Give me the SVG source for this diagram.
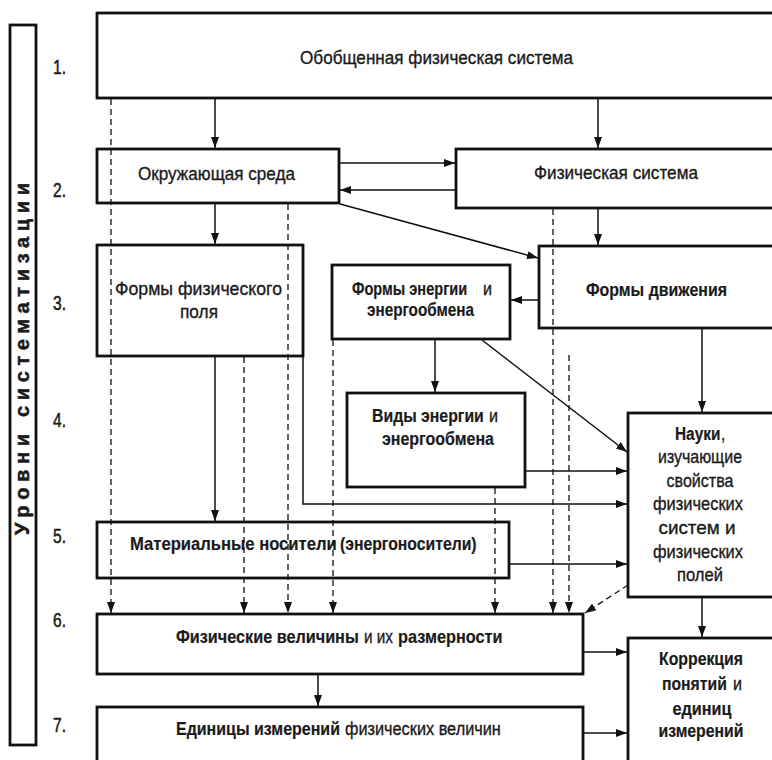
<svg xmlns="http://www.w3.org/2000/svg" width="772" height="760" viewBox="0 0 772 760">
<defs>
<marker id="ah" markerUnits="userSpaceOnUse" markerWidth="11" markerHeight="8" refX="11" refY="4" orient="auto">
<path d="M0,0 L11,4 L0,8 z" fill="#111"/>
</marker>
<style>
.box{fill:#fff;stroke:#111;stroke-width:2.8}
.t{font-family:"Liberation Sans",Arial,sans-serif;font-size:19px;fill:#1a1a1a;stroke:#1a1a1a;stroke-width:0.35}
.m{text-anchor:middle}
.b{font-weight:bold;stroke-width:0.2}
.n{font-family:"Liberation Sans",Arial,sans-serif;font-size:20px;fill:#1a1a1a;stroke:#1a1a1a;stroke-width:0.5}
.c{fill:none;stroke:#111;stroke-width:1.5}
.d{fill:none;stroke:#111;stroke-width:1.3;stroke-dasharray:6 4}
</style>
</defs>
<rect width="772" height="760" fill="#fff"/>

<g id="levels">
<rect x="10" y="25" width="26" height="720" class="box"/>
<text class="n" font-weight="bold" font-size="16" text-anchor="middle" transform="translate(29,359) rotate(-90)" textLength="352" lengthAdjust="spacing">Уровни систематизации</text>
<text class="n" x="53" y="74" textLength="13" lengthAdjust="spacingAndGlyphs">1.</text>
<text class="n" x="53" y="197" textLength="13" lengthAdjust="spacingAndGlyphs">2.</text>
<text class="n" x="53" y="310" textLength="13" lengthAdjust="spacingAndGlyphs">3.</text>
<text class="n" x="53" y="427" textLength="13" lengthAdjust="spacingAndGlyphs">4.</text>
<text class="n" x="53" y="543" textLength="13" lengthAdjust="spacingAndGlyphs">5.</text>
<text class="n" x="53" y="627" textLength="13" lengthAdjust="spacingAndGlyphs">6.</text>
<text class="n" x="53" y="732" textLength="13" lengthAdjust="spacingAndGlyphs">7.</text>
</g>

<g id="n1">
<rect x="97" y="13" width="680" height="85" class="box"/>
<text class="t" x="300" y="64" textLength="273" lengthAdjust="spacingAndGlyphs">Обобщенная физическая система</text>
</g>
<g id="n2">
<rect x="97" y="149" width="242" height="54" class="box"/>
<text class="t" x="138" y="180" textLength="157" lengthAdjust="spacingAndGlyphs">Окружающая среда</text>
</g>
<g id="n3">
<rect x="456" y="149" width="321" height="59" class="box"/>
<text class="t" x="534" y="179" textLength="164" lengthAdjust="spacingAndGlyphs">Физическая система</text>
</g>
<g id="n4">
<rect x="97" y="245" width="206" height="111" class="box"/>
<text class="t" x="115" y="295" textLength="167" lengthAdjust="spacingAndGlyphs">Формы физического</text>
<text class="t" x="180" y="318" textLength="38" lengthAdjust="spacingAndGlyphs">поля</text>
</g>
<g id="n5">
<rect x="332" y="265" width="178" height="74" class="box"/>
<text class="t b" transform="translate(352,295) scale(0.767,1)">Формы энергии</text>
<text class="t" transform="translate(483,295) scale(0.85,1)">и</text>
<text class="t b" x="367" y="316" textLength="107" lengthAdjust="spacingAndGlyphs">энергообмена</text>
</g>
<g id="n6">
<rect x="539" y="246" width="238" height="82" class="box"/>
<text class="t b" x="586" y="296" textLength="141" lengthAdjust="spacingAndGlyphs">Формы движения</text>
</g>
<g id="n7">
<rect x="347" y="393" width="178" height="94" class="box"/>
<text class="t b" transform="translate(372,422) scale(0.833,1)">Виды энергии</text>
<text class="t" transform="translate(489,422) scale(0.85,1)">и</text>
<text class="t b" x="382" y="445" textLength="112" lengthAdjust="spacingAndGlyphs">энергообмена</text>
</g>
<g id="n8">
<rect x="97" y="522" width="412" height="56" class="box"/>
<text class="t b" transform="translate(130,550) scale(0.875,1)">Материальные носители</text>
<text class="t b" transform="translate(340,550) scale(0.83,1)">(энергоносители)</text>
</g>
<g id="n9">
<rect x="628" y="413" width="149" height="184" class="box"/>
<text class="t b" transform="translate(675,440) scale(0.81,1)">Науки</text>
<text class="t" transform="translate(721,440) scale(0.8,1)">,</text>
<text class="t m" x="700" y="463" textLength="84" lengthAdjust="spacingAndGlyphs">изучающие</text>
<text class="t m" x="700" y="487" textLength="67" lengthAdjust="spacingAndGlyphs">свойства</text>
<text class="t m" x="698" y="510" textLength="90" lengthAdjust="spacingAndGlyphs">физических</text>
<text class="t m" x="697" y="534" textLength="77" lengthAdjust="spacingAndGlyphs">систем и</text>
<text class="t m" x="698" y="558" textLength="90" lengthAdjust="spacingAndGlyphs">физических</text>
<text class="t m" x="700" y="581" textLength="46" lengthAdjust="spacingAndGlyphs">полей</text>
</g>
<g id="n10">
<rect x="97" y="614" width="486" height="60" class="box"/>
<text class="t b" transform="translate(176,643) scale(0.854,1)">Физические величины</text>
<text class="t" transform="translate(364,643) scale(0.805,1)">и их</text>
<text class="t b" transform="translate(398,643) scale(0.857,1)">размерности</text>
</g>
<g id="n11">
<rect x="97" y="707" width="486" height="60" class="box"/>
<text class="t b" transform="translate(176,735) scale(0.841,1)">Единицы измерений</text>
<text class="t" transform="translate(345,735) scale(0.858,1)">физических величин</text>
</g>
<g id="n12">
<rect x="628" y="638" width="149" height="130" class="box"/>
<text class="t b m" x="701" y="665" textLength="84" lengthAdjust="spacingAndGlyphs">Коррекция</text>
<text class="t b" transform="translate(662,690) scale(0.828,1)">понятий</text>
<text class="t" transform="translate(733,690) scale(0.85,1)">и</text>
<text class="t b m" x="702" y="715" textLength="59" lengthAdjust="spacingAndGlyphs">единиц</text>
<text class="t b m" x="701" y="737" textLength="85" lengthAdjust="spacingAndGlyphs">измерений</text>
</g>

<g id="connectors">
<path class="c" d="M215,99 V148" marker-end="url(#ah)"/>
<path class="c" d="M598,99 V148" marker-end="url(#ah)"/>
<path class="c" d="M340,163 H455" marker-end="url(#ah)"/>
<path class="c" d="M455,190 H340" marker-end="url(#ah)"/>
<path class="c" d="M340,204 L538,258" marker-end="url(#ah)"/>
<path class="c" d="M215,204 V244" marker-end="url(#ah)"/>
<path class="c" d="M598,209 V245" marker-end="url(#ah)"/>
<path class="c" d="M538,300 H511" marker-end="url(#ah)"/>
<path class="c" d="M435,340 V392" marker-end="url(#ah)"/>
<path class="c" d="M482,340 L627,452" marker-end="url(#ah)"/>
<path class="c" d="M702,329 V412" marker-end="url(#ah)"/>
<path class="c" d="M526,471 H627" marker-end="url(#ah)"/>
<path class="c" d="M303,357 V504 H627" marker-end="url(#ah)"/>
<path class="c" d="M215,357 V521" marker-end="url(#ah)"/>
<path class="c" d="M510,564 H627" marker-end="url(#ah)"/>
<path class="c" d="M702,598 V637" marker-end="url(#ah)"/>
<path class="c" d="M584,652 H627" marker-end="url(#ah)"/>
<path class="c" d="M318,675 V706" marker-end="url(#ah)"/>
<path class="c" d="M584,733 H627" marker-end="url(#ah)"/>
<path class="d" d="M111,99 V613" marker-end="url(#ah)"/>
<path class="d" d="M288,204 V613" marker-end="url(#ah)"/>
<path class="d" d="M244,357 V613" marker-end="url(#ah)"/>
<path class="d" d="M333,340 V613" marker-end="url(#ah)"/>
<path class="d" d="M495,488 V613" marker-end="url(#ah)"/>
<path class="d" d="M553,209 V613" marker-end="url(#ah)"/>
<path class="d" d="M569,355 V613" marker-end="url(#ah)"/>
<path class="d" d="M628,585 L585,613" marker-end="url(#ah)"/>
</g>
</svg>
